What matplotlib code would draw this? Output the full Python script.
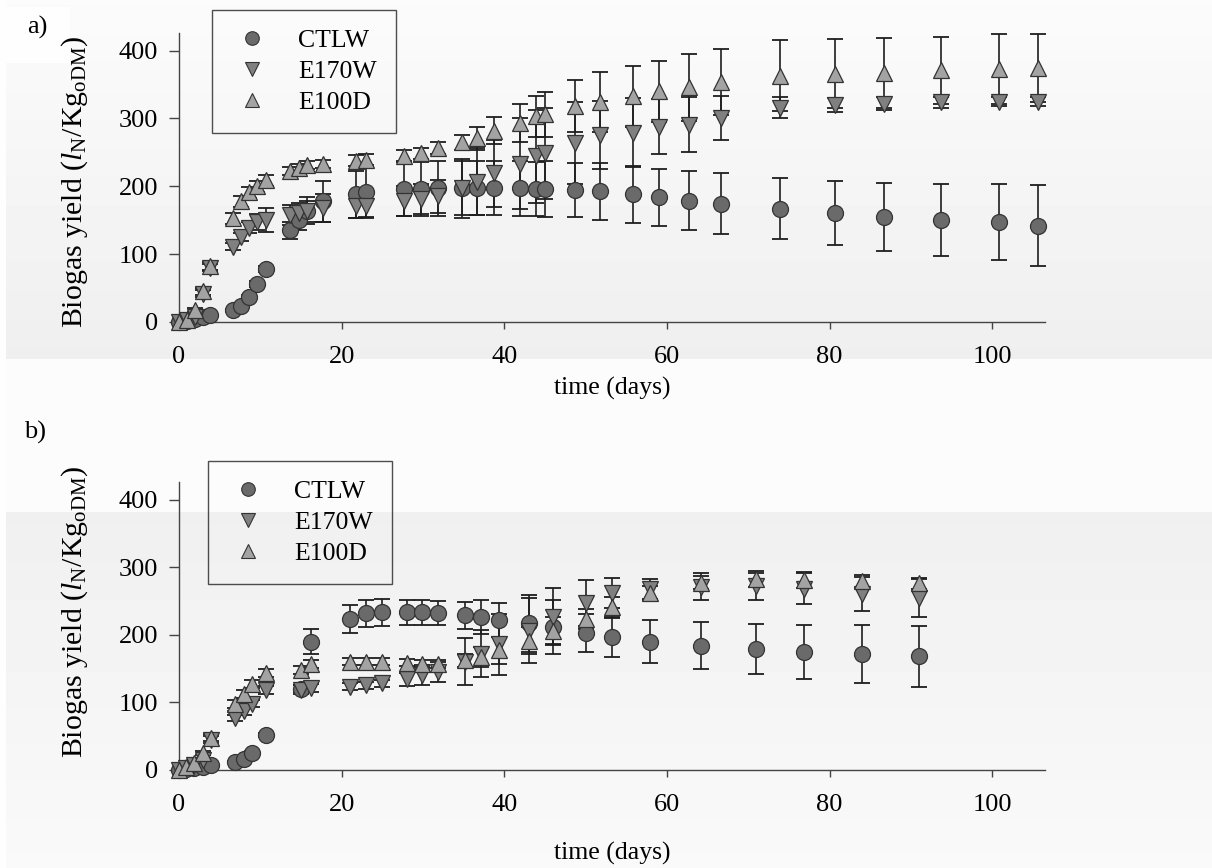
import numpy as np
import matplotlib
matplotlib.use("Agg")
import matplotlib.pyplot as plt
from matplotlib.lines import Line2D

plt.rcParams['font.family'] = ['Liberation Serif', 'DejaVu Serif']
plt.rcParams['mathtext.fontset'] = 'custom'
plt.rcParams['mathtext.rm'] = 'Liberation Serif'
plt.rcParams['mathtext.it'] = 'Liberation Serif:italic'

# ---- panel a) data (days, yield, error) ----
days_a = [0, 1, 2, 2.9, 3.8, 6.6, 7.6, 8.6, 9.6, 10.7, 13.7, 14.7, 15.8, 17.7,
          21.8, 23.0, 27.7, 29.7, 31.8, 34.8, 36.7, 38.7, 41.9, 43.9, 45.0,
          48.7, 51.8, 55.8, 59.0, 62.7, 66.7, 73.9, 80.7, 86.7, 93.7, 100.8, 105.7]
ctlw_a = [0, 2, 4, 7, 10, 17, 24, 37, 56, 78, 135, 150, 164, 178,
          188, 192, 196, 196, 197, 197, 197, 197, 197, 196, 196,
          195, 193, 188, 184, 179, 174, 167, 161, 155, 150, 147, 142]
ctlw_a_err = [0, 1, 1, 1, 2, 2, 2, 3, 4, 5, 12, 15, 20, 30,
              35, 37, 40, 40, 41, 40, 40, 40, 41, 40, 41,
              40, 42, 42, 42, 43, 45, 45, 47, 50, 53, 56, 60]
e170w_a = [0, 3, 8, 42, 80, 111, 125, 139, 147, 150, 158, 160, 163, 168,
           171, 171, 178, 181, 185, 197, 207, 219, 233, 244, 249,
           264, 276, 279, 288, 291, 301, 316, 320, 322, 324, 325, 325]
e170w_a_err = [0, 1, 2, 5, 5, 5, 6, 8, 12, 18, 15, 15, 15, 20,
               18, 18, 22, 22, 24, 43, 50, 50, 67, 68, 67,
               60, 50, 51, 40, 41, 32, 16, 10, 10, 8, 6, 6]
e100d_a = [0, 3, 18, 45, 82, 153, 178, 191, 200, 209, 222, 227, 231, 233,
           238, 239, 245, 249, 256, 265, 271, 282, 293, 303, 306,
           318, 324, 333, 340, 346, 354, 363, 366, 367, 371, 373, 375]
e100d_a_err = [0, 2, 3, 5, 6, 8, 8, 8, 8, 8, 6, 6, 6, 6,
               8, 8, 8, 8, 9, 11, 17, 20, 28, 30, 33,
               38, 44, 45, 45, 49, 49, 52, 51, 51, 49, 51, 50]

# ---- panel b) data ----
days_b = [0, 0.8, 1.8, 3.0, 3.9, 6.9, 8.0, 9.0, 10.7, 15.0, 16.2, 21.0, 23.0,
          25.0, 28.0, 29.9, 31.9, 35.2, 37.2, 39.3, 43.0, 46.0, 50.0, 53.2,
          57.9, 64.2, 71.0, 76.9, 84.0, 91.0]
ctlw_b = [0, 1, 3, 5, 7, 12, 16, 25, 52, 120, 190, 223, 232,
          233, 233, 233, 232, 229, 226, 222, 217, 211, 203, 196,
          190, 184, 179, 174, 171, 168]
ctlw_b_err = [0, 1, 1, 1, 2, 2, 2, 3, 3, 5, 18, 21, 20,
              20, 18, 18, 18, 20, 25, 25, 42, 40, 28, 29,
              32, 35, 37, 40, 43, 45]
e170w_b = [0, 3, 8, 15, 45, 77, 87, 98, 118, 119, 121, 123, 125,
           128, 134, 140, 145, 160, 172, 186, 206, 227, 247, 262,
           268, 271, 272, 268, 260, 255]
e170w_b_err = [0, 1, 2, 3, 5, 5, 5, 5, 6, 6, 6, 5, 5,
               5, 10, 15, 15, 35, 35, 45, 48, 42, 34, 22,
               15, 20, 20, 23, 25, 28]
e100d_b = [0, 5, 10, 25, 48, 98, 113, 127, 143, 148, 157, 160, 160,
           160, 159, 157, 157, 162, 167, 177, 191, 206, 223, 241,
           262, 277, 282, 281, 279, 276]
e100d_b_err = [0, 2, 2, 3, 5, 6, 6, 6, 6, 6, 6, 5, 5,
               5, 5, 5, 6, 10, 15, 20, 20, 20, 15, 15,
               10, 10, 12, 12, 10, 8]

series_names = ['CTLW', 'E170W', 'E100D']
W, H = 1212, 868

fig = plt.figure(figsize=(W / 100, H / 100), dpi=100)

# scanned-page style gray backdrop
bg = np.ones((H, W))
yy = np.arange(H)
col = np.full(H, 0.988)
top = yy < 359
col[top] = np.linspace(0.985, 0.936, top.sum())
bot = yy >= 512
col[bot] = np.linspace(0.940, 0.978, bot.sum())
bg[:] = col[:, None]
bg[:, :6] = 0.995
bg[7:63, 6:70] = 0.995
ax_bg = fig.add_axes([0, 0, 1, 1], zorder=-10)
ax_bg.imshow(bg, cmap='gray', vmin=0, vmax=1, aspect='auto', interpolation='nearest')
ax_bg.axis('off')

styles = {
    'CTLW': dict(marker='o', mfc='#6a6a6a', ms=11.5),
    'E170W': dict(marker='v', mfc='#808080', ms=12),
    'E100D': dict(marker='^', mfc='#a3a3a3', ms=12),
}


def px_box(l, t, r, b):
    return [l / W, 1 - b / H, (r - l) / W, (b - t) / H]


def draw_panel(rect, days, data, legend_xy, tag, tag_xy, ylab_y, xlab_y):
    ax = fig.add_axes(rect)
    ax.patch.set_alpha(0)
    # error bars first, markers on top
    for name, (vals, errs) in zip(series_names, data):
        ax.errorbar(days, vals, yerr=errs, fmt='none', ecolor='#1e1e1e',
                    elinewidth=1.2, capsize=6, capthick=1.3, clip_on=False, zorder=2)
    for name, (vals, errs) in zip(series_names, data):
        st = styles[name]
        ax.plot(days, vals, linestyle='none', marker=st['marker'], ms=st['ms'],
                mfc=st['mfc'], mec='#333333', mew=0.9, clip_on=False, zorder=3)
    ax.set_xlim(0, 106.5)
    ax.set_ylim(0, 426)
    ax.set_xticks([0, 20, 40, 60, 80, 100])
    ax.set_yticks([0, 100, 200, 300, 400])
    for s in ['top', 'right']:
        ax.spines[s].set_visible(False)
    for s in ['left', 'bottom']:
        ax.spines[s].set_color('#444444')
        ax.spines[s].set_linewidth(1.0)
    ax.tick_params(axis='y', direction='out', length=7, width=1.0, color='#444444',
                   pad=8, labelsize=19)
    ax.tick_params(axis='x', direction='out', length=5, width=1.0, color='#444444',
                   pad=12, labelsize=19)

    handles = [Line2D([], [], linestyle='none', marker=styles[n]['marker'],
                      ms=styles[n]['ms'] * 0.85, mfc=styles[n]['mfc'],
                      mec='#333333', mew=0.8) for n in series_names]
    leg = ax.legend(handles, series_names, loc='upper left',
                    bbox_to_anchor=(legend_xy[0] / W, 1 - legend_xy[1] / H),
                    bbox_transform=fig.transFigure, fontsize=18.5,
                    frameon=True, fancybox=False, borderaxespad=0,
                    borderpad=0.75, labelspacing=0.3, handlelength=1.6,
                    handletextpad=1.0)
    fr = leg.get_frame()
    fr.set_facecolor('none')
    fr.set_edgecolor('#222222')
    fr.set_linewidth(1.0)

    fig.text(tag_xy[0] / W, 1 - tag_xy[1] / H, tag, fontsize=19,
             ha='center', va='center')
    fig.text(75 / W, 1 - ylab_y / H,
             r'Biogas yield ($\mathit{l}_{\mathrm{N}}$/Kg$_{\mathrm{oDM}}$)',
             rotation=90, fontsize=21.5, ha='center', va='center')
    fig.text(612 / W, 1 - xlab_y / H, 'time (days)', fontsize=18.5,
             ha='center', va='center')
    return ax


draw_panel(px_box(179, 33, 1045, 322), days_a,
           [(ctlw_a, ctlw_a_err), (e170w_a, e170w_a_err), (e100d_a, e100d_a_err)],
           (212, 10), 'a)', (37, 27), 182, 388)
draw_panel(px_box(179, 482, 1045, 770), days_b,
           [(ctlw_b, ctlw_b_err), (e170w_b, e170w_b_err), (e100d_b, e100d_b_err)],
           (208, 461), 'b)', (35, 432), 612, 853)

fig.savefig('out.png', dpi=100)
